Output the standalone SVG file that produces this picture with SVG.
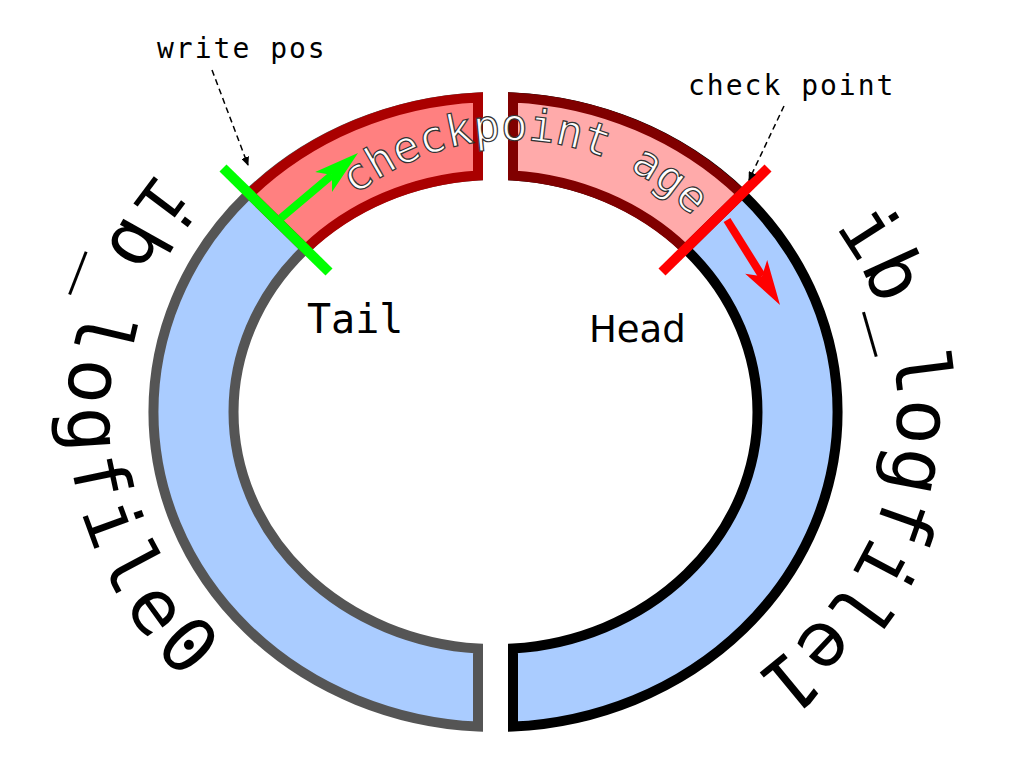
<svg xmlns="http://www.w3.org/2000/svg" width="1033" height="768" viewBox="0 0 1033 768">
  <defs>
    <style>
      .mono { font-family: "DejaVu Sans Mono", "Liberation Mono", monospace; }
      .sans { font-family: "DejaVu Sans", "Liberation Sans", sans-serif; }
      .blue { fill: #aaccff; stroke-width: 10; stroke-linejoin: miter; }
      .seg { stroke-width: 10; stroke-linejoin: miter; }
      .lead { fill: none; stroke: #000; stroke-width: 1.5; stroke-dasharray: 6 4; }
      .big { fill: #000; }
    </style>
    <marker id="tip" markerWidth="10" markerHeight="8" refX="8" refY="4" orient="auto" markerUnits="userSpaceOnUse">
      <path d="M0,0 L9,4 L0,8 Z" fill="#000"/>
    </marker>
    <path id="pLeft" d="M 495.5,22 A 428 390 0 0 0 495.5,802"/>
    <path id="pRight" d="M 495.5,67 A 402 345 0 0 1 495.5,757"/>
    <path id="pTop" d="M 263,389 A 249 249 0 0 1 761,389"/>
  </defs>
  <rect width="1033" height="768" fill="#fff"/>

  <g id="ring-left">
    <path class="blue" stroke="#555555" d="M 478,97.41 A 342 315 0 0 0 478,726.59 L 478,648.47 A 262 237 0 0 1 478,175.53 Z"/>
  </g>
  <g id="ring-right">
    <path class="blue" stroke="#000000" d="M 513,97.41 A 342 315 0 0 1 513,726.59 L 513,648.47 A 262 237 0 0 0 513,175.53 Z"/>
  </g>
  <g id="segment-left">
    <path class="seg" fill="#ff8080" stroke="#aa0000" d="M 249.4,193.9 A 342 315 0 0 1 478,97.41 L 478,175.53 A 262 237 0 0 0 305.7,249.1 Z"/>
  </g>
  <g id="segment-right">
    <path class="seg" fill="#ffaaaa" stroke="#800000" d="M 513,97.41 A 342 315 0 0 1 741.6,193.9 L 685.3,249.1 A 262 237 0 0 0 513,175.53 Z"/>
  </g>

  <g id="label-checkpoint-age">
    <text class="mono" font-size="44" fill="#ffffff" stroke="#333333" stroke-width="1.2"><textPath href="#pTop" startOffset="221">checkpoint age</textPath></text>
  </g>
  <g id="label-logfile0">
    <text class="mono big" font-size="76" letter-spacing="6"><textPath href="#pLeft" startOffset="380">ib_logfile0</textPath></text>
  </g>
  <g id="label-logfile1">
    <text class="mono big" font-size="77"><textPath href="#pRight" startOffset="388">ib_logfile1</textPath></text>
  </g>

  <g id="write-pos">
    <line x1="223" y1="168" x2="329" y2="272" stroke="#00ff00" stroke-width="10"/>
    <line x1="281" y1="218" x2="332" y2="175" stroke="#00ff00" stroke-width="8"/>
    <polygon points="358,153 332,191.9 332,174.9 315.2,172.1" fill="#00ff00"/>
  </g>
  <g id="check-point">
    <line x1="768" y1="168" x2="662" y2="272" stroke="#ff0000" stroke-width="10"/>
    <line x1="727" y1="220" x2="762" y2="276" stroke="#ff0000" stroke-width="8"/>
    <polygon points="780,305 745.2,273.7 762,276.2 767.2,259.9" fill="#ff0000"/>
  </g>

  <g id="connectors">
    <line class="lead" x1="212" y1="70" x2="248" y2="165" marker-end="url(#tip)"/>
    <line class="lead" x1="784" y1="106" x2="749" y2="180" marker-end="url(#tip)"/>
  </g>

  <g id="labels">
    <text class="mono" x="157" y="58" font-size="28" letter-spacing="2" fill="#000">write pos</text>
    <text class="mono" x="688" y="95" font-size="28" letter-spacing="2" fill="#000">check point</text>
    <text class="mono" x="307" y="333" font-size="40" fill="#000">Tail</text>
    <text class="sans" x="589" y="342" font-size="37" fill="#000">Head</text>
  </g>
</svg>
